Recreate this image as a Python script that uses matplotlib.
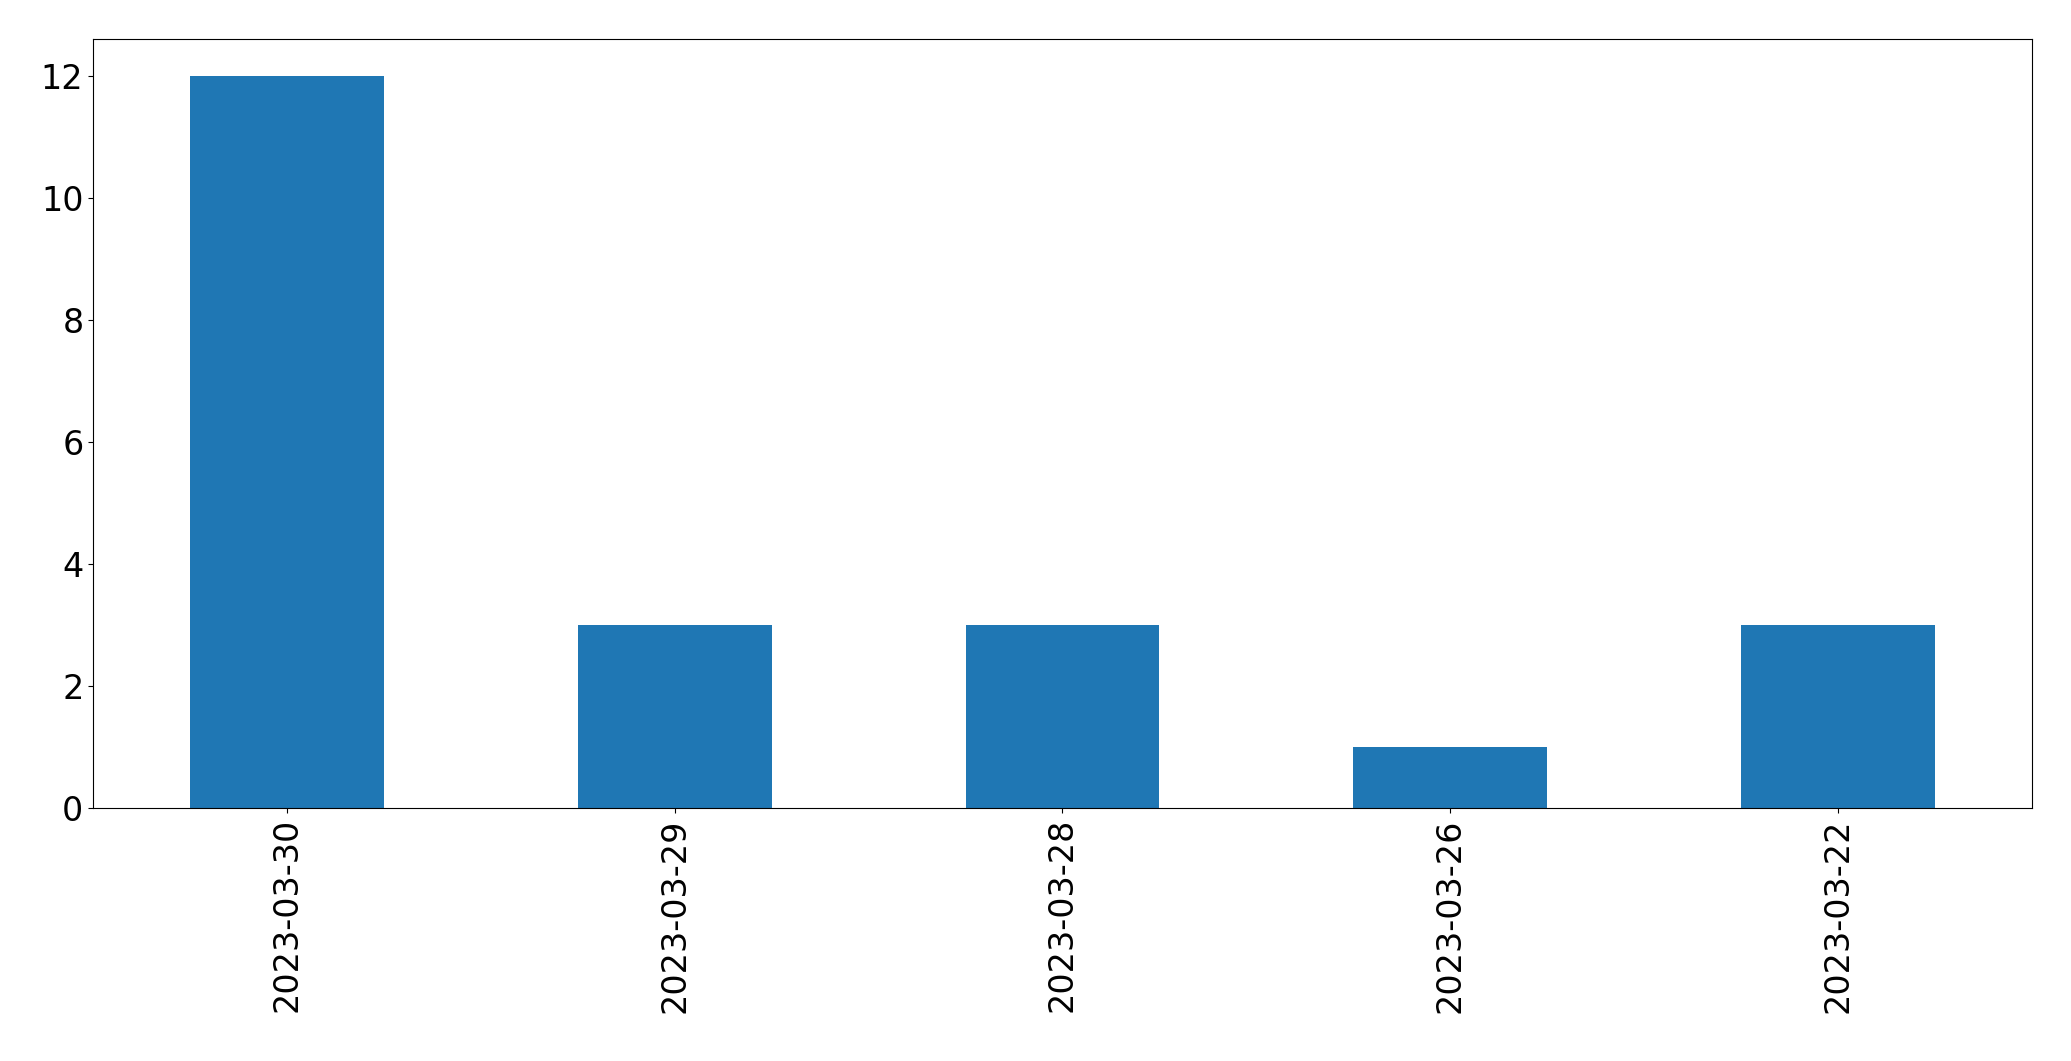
import matplotlib
matplotlib.use("Agg")
import matplotlib.pyplot as plt

dates = ["2023-03-30", "2023-03-29", "2023-03-28", "2023-03-26", "2023-03-22"]
counts = [12, 3, 3, 1, 3]

fig = plt.figure(figsize=(20.71, 10.61), dpi=100)
ax = fig.add_axes([0.045, 0.238, 0.936, 0.725])
ax.bar(range(len(dates)), counts, width=0.5, color="#1f77b4")
ax.set_xticks(range(len(dates)))
ax.set_xticklabels(dates, rotation=90)
ax.set_xlim(-0.5, len(dates) - 0.5)
ax.set_ylim(0, 12.6)
ax.tick_params(labelsize=24)
fig.savefig("out.png", dpi=100)
